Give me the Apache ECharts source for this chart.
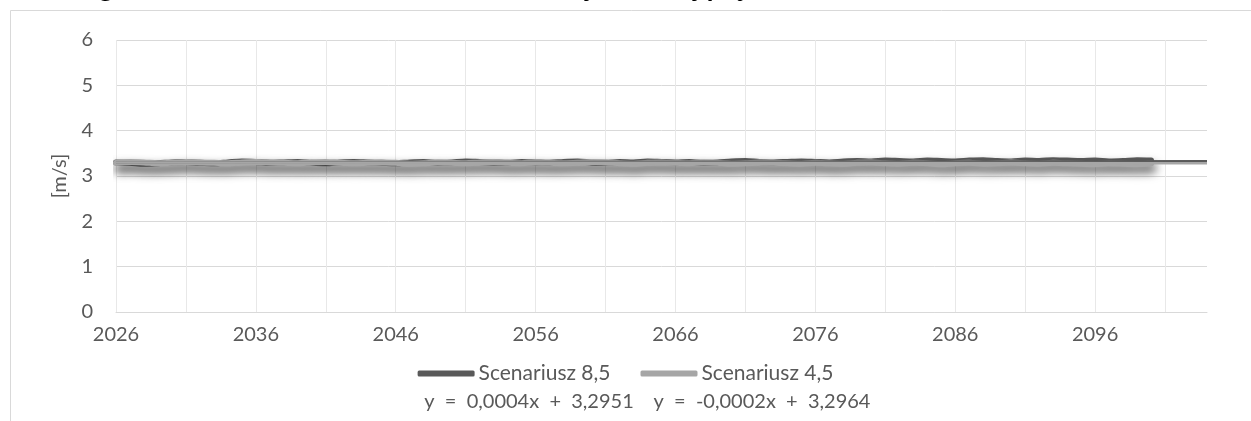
<!DOCTYPE html>
<html>
<head>
<meta charset="utf-8">
<script src="https://cdn.jsdelivr.net/npm/echarts@6/dist/echarts.min.js"></script>
<style>
html,body{margin:0;padding:0;background:#fff;}
#chart{width:1251px;height:421px;}
</style>
</head>
<body>
<div id="chart"></div>
<script>
// Categories (years), the axis extends to 2104 for the trend-line forecast
const years = [];
for (let y = 2026; y <= 2104; y++) years.push(String(y));

// Scenariusz 8,5 — annual mean wind speed [m/s], 2026–2100
const scen85 = [
  3.30, 3.29, 3.27, 3.28, 3.30, 3.31, 3.29, 3.28, 3.30, 3.32,
  3.31, 3.29, 3.30, 3.31, 3.29, 3.28, 3.30, 3.31, 3.30, 3.29,
  3.28, 3.30, 3.31, 3.29, 3.30, 3.32, 3.31, 3.30, 3.29, 3.31,
  3.30, 3.29, 3.31, 3.32, 3.30, 3.29, 3.31, 3.30, 3.32, 3.31,
  3.30, 3.31, 3.29, 3.30, 3.32, 3.33, 3.31, 3.30, 3.31, 3.32,
  3.31, 3.30, 3.32, 3.33, 3.32, 3.34, 3.33, 3.32, 3.34, 3.33,
  3.32, 3.34, 3.35, 3.33, 3.32, 3.34, 3.33, 3.35, 3.34, 3.33,
  3.34, 3.32, 3.33, 3.35, 3.34
];

// Scenariusz 4,5 — annual mean wind speed [m/s], 2026–2100
const scen45 = [
  3.29, 3.31, 3.30, 3.28, 3.29, 3.31, 3.30, 3.29, 3.28, 3.30,
  3.31, 3.30, 3.29, 3.28, 3.30, 3.31, 3.29, 3.28, 3.29, 3.30,
  3.29, 3.27, 3.28, 3.30, 3.29, 3.28, 3.30, 3.31, 3.29, 3.28,
  3.30, 3.29, 3.28, 3.29, 3.31, 3.30, 3.28, 3.27, 3.29, 3.30,
  3.29, 3.28, 3.30, 3.29, 3.27, 3.28, 3.30, 3.29, 3.28, 3.27,
  3.29, 3.28, 3.27, 3.29, 3.30, 3.28, 3.27, 3.29, 3.28, 3.26,
  3.28, 3.29, 3.27, 3.28, 3.30, 3.28, 3.27, 3.29, 3.28, 3.27,
  3.26, 3.28, 3.27, 3.26, 3.28
];

// Linear trend lines: [start value at 2026, end value at 2104]
const trendYears = ['2026', '2104'];
const trend85 = [3.2955, 3.3267];
const trend45 = [3.2962, 3.2806];

const seriesNames = ['Scenariusz 8,5', 'Scenariusz 4,5'];
const trendLabels = ['y  =  0,0004x  +  3,2951', 'y  =  -0,0002x  +  3,2964'];
const yTicks = [0, 1, 2, 3, 4, 5, 6];
const titleText = 'Figura 12. Średnia roczna wartość tendencji średniej prędkości wiatru w latach 2026 – 2100';

const FONT = 'Lato';
const TXT = '#595959';
const FS = 20;

const chart = echarts.init(document.getElementById('chart'));

const shadow = {
  shadowColor: 'rgba(0,0,0,0.5)',
  shadowBlur: 10,
  shadowOffsetX: 2,
  shadowOffsetY: 6
};

chart.setOption({
  animation: false,
  backgroundColor: '#fff',
  textStyle: { fontFamily: FONT },
  title: {
    text: titleText,
    left: 'center',
    top: -25,
    padding: 0,
    textStyle: { fontFamily: FONT, fontSize: 27, fontWeight: 'bold', color: '#000' }
  },
  graphic: [
    {
      type: 'rect', z: -10, silent: true,
      shape: { x: 10.5, y: 10.5, width: 1400, height: 600 },
      style: { fill: '#fff', stroke: '#d9d9d9', lineWidth: 1 }
    },
    {
      type: 'text', x: 529, y: 402, z: 10,
      style: { text: trendLabels[0], fontFamily: FONT, fontSize: FS, fill: TXT, align: 'center', verticalAlign: 'middle' }
    },
    {
      type: 'text', x: 762, y: 402, z: 10,
      style: { text: trendLabels[1], fontFamily: FONT, fontSize: FS, fill: TXT, align: 'center', verticalAlign: 'middle' }
    }
  ],
  grid: { left: 116, right: 44, top: 40, bottom: 109, containLabel: false },
  legend: {
    data: seriesNames,
    top: 358,
    left: 'center',
    icon: 'roundRect',
    itemWidth: 57,
    itemHeight: 6,
    itemGap: 30,
    textStyle: { fontFamily: FONT, fontSize: 21, color: TXT, padding: [0, 0, 0, -1] }
  },
  xAxis: {
    type: 'category',
    data: years,
    boundaryGap: false,
    axisLine: { lineStyle: { color: '#d9d9d9', width: 1 } },
    axisTick: { show: false },
    axisLabel: { interval: 9, margin: 13, fontFamily: FONT, fontSize: FS, color: TXT },
    splitLine: { show: true, interval: 4, lineStyle: { color: '#e8e8e8', width: 1 } }
  },
  yAxis: {
    type: 'value',
    min: 0, max: 6, interval: 1,
    name: '[m/s]',
    nameLocation: 'middle',
    nameRotate: 90,
    nameGap: 46,
    nameTextStyle: { fontFamily: FONT, fontSize: FS, color: TXT },
    axisLine: { show: false },
    axisTick: { show: false },
    axisLabel: { margin: 23, fontFamily: FONT, fontSize: FS, color: TXT,
      formatter: v => yTicks.includes(v) ? String(v) : '' },
    splitLine: { lineStyle: { color: '#d9d9d9', width: 1 } }
  },
  series: [
    {
      name: seriesNames[0], type: 'line', data: scen85, showSymbol: false, smooth: 0.3,
      lineStyle: Object.assign({ color: '#595959', width: 6, cap: 'round', join: 'round' }, shadow),
      itemStyle: { color: '#595959' }, z: 2
    },
    {
      name: seriesNames[1], type: 'line', data: scen45, showSymbol: false, smooth: 0.3,
      lineStyle: Object.assign({ color: '#a6a6a6', width: 6, cap: 'round', join: 'round' }, shadow),
      itemStyle: { color: '#a6a6a6' }, z: 3
    },
    {
      name: 'trend85', type: 'line', showSymbol: false, silent: true,
      data: trendYears.map((y, i) => [y, trend85[i]]),
      lineStyle: { color: '#595959', width: 2.5 }, z: 4
    },
    {
      name: 'trend45', type: 'line', showSymbol: false, silent: true,
      data: trendYears.map((y, i) => [y, trend45[i]]),
      lineStyle: { color: '#a6a6a6', width: 2.5 }, z: 4
    }
  ]
});
</script>
</body>
</html>
